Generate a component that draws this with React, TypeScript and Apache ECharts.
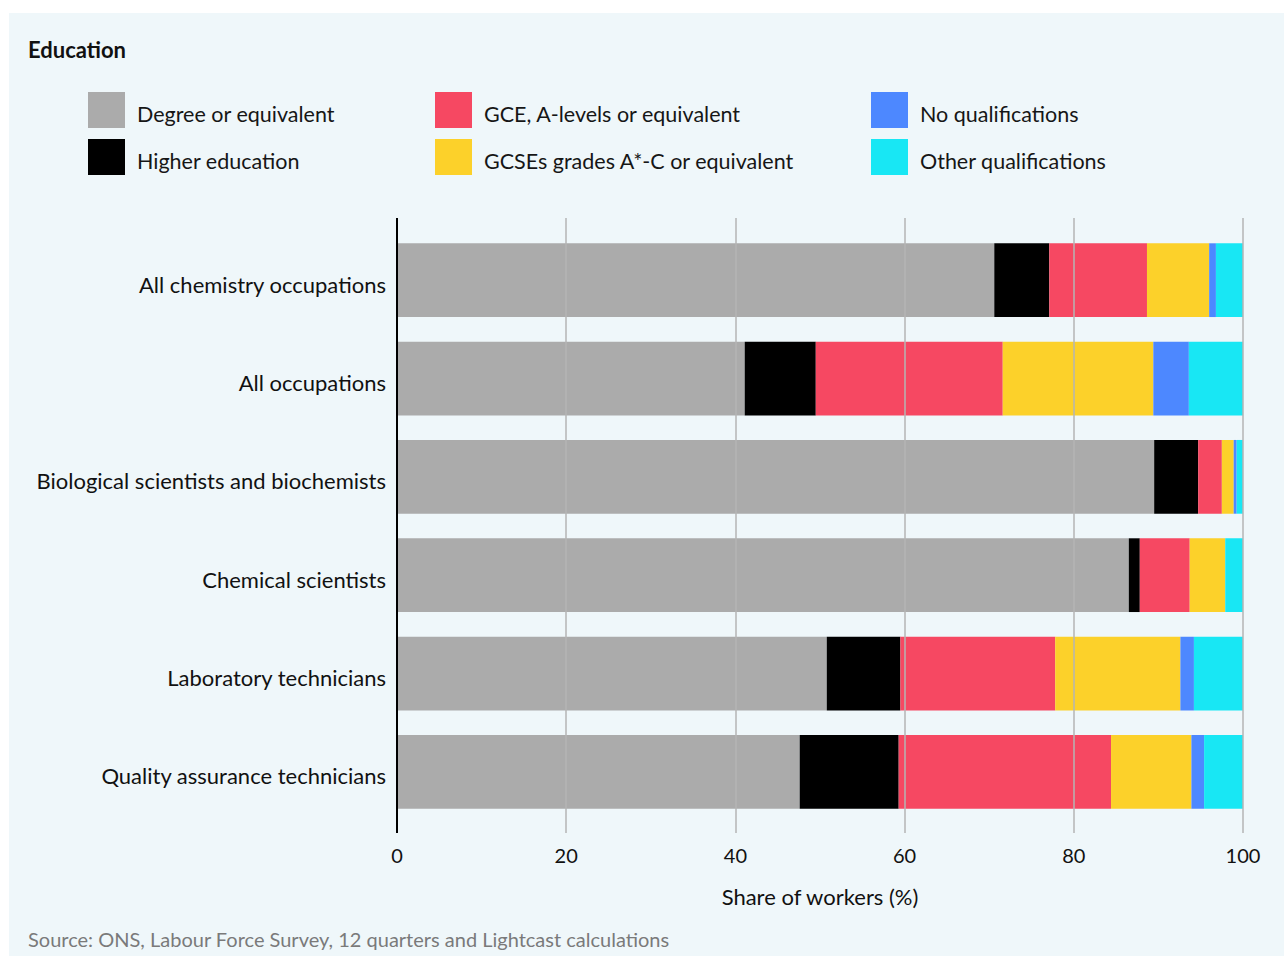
import React, { useEffect, useRef } from "react";
import * as echarts from "echarts";

const categories = [
  "All chemistry occupations",
  "All occupations",
  "Biological scientists and biochemists",
  "Chemical scientists",
  "Laboratory technicians",
  "Quality assurance technicians",
];

const degree = [70.6, 41.1, 89.5, 86.5, 50.8, 47.6];
const higherEducation = [6.5, 8.4, 5.2, 1.3, 8.7, 11.7];
const gceALevels = [11.55, 22.1, 2.8, 5.9, 18.3, 25.1];
const gcses = [7.35, 17.8, 1.4, 4.2, 14.8, 9.5];
const noQualifications = [0.8, 4.2, 0.35, 0, 1.6, 1.5];
const otherQualifications = [3.2, 6.4, 0.75, 2.1, 5.8, 4.6];

const xTicks = [0, 20, 40, 60, 80, 100];

const seriesDefs = [
  { name: "Degree or equivalent", data: degree, color: "#ababab" },
  { name: "Higher education", data: higherEducation, color: "#000000" },
  { name: "GCE, A-levels or equivalent", data: gceALevels, color: "#f64862" },
  { name: "GCSEs grades A*-C or equivalent", data: gcses, color: "#fcd12a" },
  { name: "No qualifications", data: noQualifications, color: "#4d88ff" },
  { name: "Other qualifications", data: otherQualifications, color: "#18e7f4" },
];

const FONT = "Lato, 'Noto Sans', sans-serif";

export default function App() {
  const ref = useRef<HTMLDivElement>(null);

  useEffect(() => {
    if (!ref.current) return;
    const chart = echarts.init(ref.current, null, { renderer: "svg" });
    const legendBase = {
      orient: "vertical",
      itemWidth: 37,
      itemHeight: 36,
      itemGap: 11,
      icon: "rect",
      selectedMode: false,
      formatter: (name: string) => "{t|" + name + "}",
      textStyle: {
        rich: {
          t: {
            fontFamily: FONT,
            fontSize: 21.5,
            color: "#161616",
            padding: [8, 0, 0, 7],
          },
        },
      },
      top: 74,
    };
    chart.setOption({
      animation: false,
      backgroundColor: "transparent",
      textStyle: { fontFamily: FONT },
      title: {
        text: "Education",
        left: 14,
        top: 20,
        textStyle: { fontFamily: FONT, fontSize: 22, fontWeight: "bold", color: "#111" },
      },
      legend: [
        { ...legendBase, left: 74, data: [seriesDefs[0].name, seriesDefs[1].name] },
        { ...legendBase, left: 421, data: [seriesDefs[2].name, seriesDefs[3].name] },
        { ...legendBase, left: 857, data: [seriesDefs[4].name, seriesDefs[5].name] },
      ],
      grid: { left: 388, right: 41, top: 218, bottom: 135, containLabel: false },
      xAxis: [
        {
          type: "value",
          min: 0,
          max: 100,
          interval: 20,
          z: 5,
          name: "Share of workers (%)",
          nameLocation: "middle",
          nameGap: 64,
          nameTextStyle: { fontFamily: FONT, fontSize: 22, color: "#111" },
          axisLine: { show: false },
          axisTick: { show: true, length: 12, lineStyle: { color: "#b4b4b4", width: 1.5 } },
          axisLabel: {
            fontFamily: FONT,
            fontSize: 20,
            color: "#111",
            margin: 24,
            formatter: (v: number) => (xTicks.includes(v) ? String(v) : ""),
          },
          splitLine: { show: true, lineStyle: { color: "#b4b4b4", width: 1.5 } },
        },
        {
          type: "value",
          position: "top",
          min: 0,
          max: 100,
          interval: 20,
          z: 5,
          axisLine: { show: false },
          axisTick: { show: true, length: 13, lineStyle: { color: "#b4b4b4", width: 1.5 } },
          axisLabel: { show: false },
          splitLine: { show: false },
        },
      ],
      yAxis: {
        type: "category",
        data: categories,
        inverse: true,
        axisLine: { show: false },
        axisTick: { show: false },
        axisLabel: {
          margin: 11,
          formatter: (v: string) => "{c|" + v + "}",
          rich: {
            c: {
              fontFamily: FONT,
              fontSize: 22,
              color: "#111",
              padding: [8, 0, 0, 0],
            },
          },
        },
      },
      series: seriesDefs.map((s) => ({
        name: s.name,
        type: "bar",
        stack: "total",
        data: s.data,
        barCategoryGap: "25%",
        itemStyle: { color: s.color },
        emphasis: { disabled: true },
        xAxisIndex: 0,
      })),
      graphic: [
        {
          type: "line",
          shape: { x1: 388, y1: 205, x2: 388, y2: 820 },
          style: { stroke: "#000", lineWidth: 2 },
          z: 10,
        },
        {
          type: "text",
          left: 19,
          top: 916,
          style: {
            text: "Source: ONS, Labour Force Survey, 12 quarters and Lightcast calculations",
            fontFamily: FONT,
            fontSize: 20,
            fill: "#7a7a7a",
          },
        },
      ],
    });
    return () => chart.dispose();
  }, []);

  return (
    <div
      style={{
        position: "absolute",
        left: 9,
        top: 13,
        width: 1275,
        height: 943,
        background: "#eff7fa",
      }}
    >
      <div ref={ref} style={{ width: 1275, height: 943 }} />
    </div>
  );
}
